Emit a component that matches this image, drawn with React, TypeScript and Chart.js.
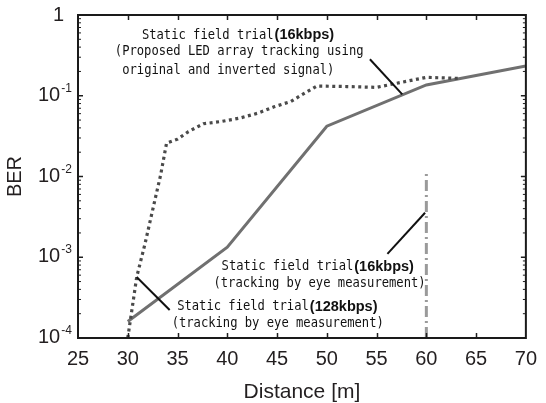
import React, { useEffect, useRef } from "react";
import { Chart, registerables } from "chart.js";

Chart.register(...registerables);

// ---- data ----
const xTickValues = [25, 30, 35, 40, 45, 50, 55, 60, 65, 70];
const yDecades = [1, 1e-1, 1e-2, 1e-3, 1e-4];
const yDecadeExponents = ["0", "-1", "-2", "-3", "-4"];

const eye128X = [30, 40, 50, 60, 70];
const eye128BER = [1.6e-4, 1.33e-3, 0.042, 0.136, 0.233];

const ledX = [30, 30.9, 31.75, 32.8, 33.3, 33.9, 35, 36.1, 37.6, 39.4, 41.3, 43.1, 44.7, 46.4, 47.5, 49, 52, 55, 58, 60, 63.3];
const ledBER = [1e-4, 5.7e-4, 1.5e-3, 5.6e-3, 0.0104, 0.026, 0.029, 0.036, 0.045, 0.048, 0.053, 0.061, 0.073, 0.085, 0.103, 0.132, 0.13, 0.127, 0.151, 0.169, 0.164];

const eye16X = [60, 60];
const eye16BER = [1e-4, 0.012];

// annotation text: [plain, bold, x (data), y (data)]
const annoLines: [string, string, number, number][] = [
  ["Static field trial", "(16kbps)", 31.42, 0.565],
  ["(Proposed LED array tracking using", "", 28.7, 0.351],
  ["original and inverted signal)", "", 29.44, 0.208],
  ["Static field trial", "(16kbps)", 39.43, 7.64e-4],
  ["(tracking by eye measurement)", "", 38.61, 4.75e-4],
  ["Static field trial", "(128kbps)", 34.96, 2.44e-4],
  ["(tracking by eye measurement)", "", 34.41, 1.52e-4],
];
// leader lines: x1, y1, x2, y2 (data)
const leaderLines: [number, number, number, number][] = [
  [54.33, 0.283, 57.58, 0.104],
  [56.09, 1.1e-3, 59.87, 3.56e-3],
  [30.89, 5.7e-4, 34.21, 2.22e-4],
];

const decorPlugin = {
  id: "decor",
  afterDraw(chart: any) {
    const { ctx, chartArea: a, scales } = chart;
    const xs = scales.x;
    const ys = scales.y;
    ctx.save();
    const seg = (x1: number, y1: number, x2: number, y2: number) => {
      ctx.beginPath();
      ctx.moveTo(x1, y1);
      ctx.lineTo(x2, y2);
      ctx.stroke();
    };
    // ticks
    ctx.strokeStyle = "#1e1e1e";
    ctx.lineWidth = 1.5;
    for (const v of xTickValues) {
      const px = Math.round(xs.getPixelForValue(v)) + 0.5;
      if (px <= a.left + 2 || px >= a.right - 2) continue;
      seg(px, a.bottom, px, a.bottom - 5);
      seg(px, a.top, px, a.top + 5);
    }
    for (let d = -4; d <= 0; d++) {
      const base = Math.pow(10, d);
      const py = ys.getPixelForValue(base);
      if (py > a.top + 2 && py < a.bottom - 2) {
        seg(a.left, py, a.left + 5, py);
        seg(a.right, py, a.right - 5, py);
      }
      if (d < 0) {
        ctx.lineWidth = 1;
        for (let k = 2; k <= 9; k++) {
          const pm = ys.getPixelForValue(base * k);
          seg(a.left, pm, a.left + 3, pm);
          seg(a.right, pm, a.right - 3, pm);
        }
        ctx.lineWidth = 1.5;
      }
    }
    // frame
    ctx.strokeStyle = "#1a1a1a";
    ctx.lineWidth = 2;
    ctx.strokeRect(a.left, a.top, a.right - a.left, a.bottom - a.top);

    // y tick labels
    ctx.fillStyle = "#231f20";
    ctx.textBaseline = "alphabetic";
    ctx.textAlign = "left";
    yDecades.forEach((v, i) => {
      const py = ys.getPixelForValue(v);
      const exp = yDecadeExponents[i];
      if (exp === "0") {
        ctx.font = "20px 'Liberation Sans', Arial, sans-serif";
        ctx.fillText("1", 53, py + 6);
      } else {
        ctx.font = "20px 'Liberation Sans', Arial, sans-serif";
        ctx.fillText("10", 38, py + 5);
        const w = ctx.measureText("10").width;
        ctx.font = "12px 'Liberation Sans', Arial, sans-serif";
        ctx.fillText(exp, 38 + w + 1, py - 4);
      }
    });

    // leader lines
    ctx.strokeStyle = "#111";
    ctx.lineWidth = 2;
    for (const [x1, y1, x2, y2] of leaderLines) {
      seg(xs.getPixelForValue(x1), ys.getPixelForValue(y1), xs.getPixelForValue(x2), ys.getPixelForValue(y2));
    }
    // annotation text (condensed monospace, like the reference)
    ctx.textBaseline = "middle";
    ctx.fillStyle = "#111";
    const sx = 0.9;
    for (const [plain, bold, vx, vy] of annoLines) {
      const px = xs.getPixelForValue(vx);
      const py = ys.getPixelForValue(vy);
      ctx.save();
      ctx.translate(px, py);
      ctx.scale(sx, 1);
      ctx.font = "13.5px 'DejaVu Sans Mono', monospace";
      ctx.fillText(plain, 0, 0);
      const w = ctx.measureText(plain).width * sx;
      ctx.restore();
      if (bold) {
        ctx.font = "bold 14.5px 'Liberation Sans', Arial, sans-serif";
        ctx.fillText(bold, px + w + 1, py);
      }
    }
    ctx.restore();
  },
};

export default function App() {
  const ref = useRef<HTMLCanvasElement | null>(null);
  useEffect(() => {
    document.body.style.margin = "0";
    const canvas = ref.current;
    if (!canvas) return;
    const toPts = (xa: number[], ya: number[]) => xa.map((x, i) => ({ x, y: ya[i] }));
    const chart = new Chart(canvas, {
      type: "line",
      data: {
        datasets: [
          {
            label: "eye 16kbps",
            data: toPts(eye16X, eye16BER),
            borderColor: "#9a9a9a",
            borderWidth: 3,
            borderDash: [11, 4, 2, 4],
            pointRadius: 0,
            fill: false,
          },
          {
            label: "LED 16kbps",
            data: toPts(ledX, ledBER),
            borderColor: "#4a4a4a",
            borderWidth: 3.2,
            borderDash: [3, 3.5],
            borderCapStyle: "butt",
            pointRadius: 0,
            fill: false,
          },
          {
            label: "eye 128kbps",
            data: toPts(eye128X, eye128BER),
            borderColor: "#707070",
            borderWidth: 3,
            pointRadius: 0,
            fill: false,
          },
        ],
      },
      options: {
        animation: false,
        responsive: false,
        devicePixelRatio: 1,
        layout: { padding: { top: 15, right: 15, left: 0, bottom: 0 } },
        plugins: { legend: { display: false }, tooltip: { enabled: false } },
        scales: {
          x: {
            type: "linear",
            min: 25,
            max: 70,
            grid: { display: false, drawTicks: false },
            border: { display: false },
            ticks: {
              stepSize: 5,
              padding: 9,
              color: "#231f20",
              font: { family: "'Liberation Sans', Arial, sans-serif", size: 20 },
              maxRotation: 0,
            },
            title: {
              display: true,
              text: "Distance [m]",
              color: "#231f20",
              font: { family: "'Liberation Sans', Arial, sans-serif", size: 21, lineHeight: 1 },
              padding: 0,
            },
            afterFit: (s: any) => {
              s.height = 65;
            },
          },
          y: {
            type: "logarithmic",
            min: 1e-4,
            max: 1,
            grid: { display: false, drawTicks: false },
            border: { display: false },
            ticks: { display: false },
            title: {
              display: true,
              text: "BER",
              color: "#231f20",
              font: { family: "'Liberation Sans', Arial, sans-serif", size: 20, lineHeight: 1.2 },
              padding: { top: 3, bottom: 0 },
            },
            afterFit: (s: any) => {
              s.width = 78;
            },
          },
        },
      },
      plugins: [decorPlugin],
    } as any);
    return () => chart.destroy();
  }, []);
  return (
    <div style={{ width: 546, height: 403 }}>
      <canvas ref={ref} width={546} height={403} style={{ display: "block" }} />
    </div>
  );
}
